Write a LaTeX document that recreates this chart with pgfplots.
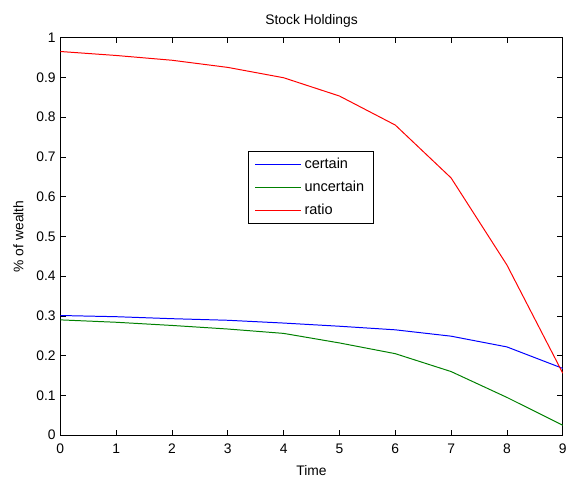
\documentclass[border=0pt]{standalone}
\usepackage{pgfplots}
\pgfplotsset{compat=1.18}
\usepackage{fontspec}
\setmainfont{Liberation Sans}
\begin{document}
\begin{tikzpicture}
\begin{axis}[
  at={(0,0)}, anchor=south west,
  scale only axis,
  width=381pt, height=301.5pt,
  xmin=0, xmax=9, ymin=0, ymax=1,
  xtick={0,1,...,9},
  ytick={0,0.1,...,1},
  yticklabels={0,0.1,0.2,0.3,0.4,0.5,0.6,0.7,0.8,0.9,1},
  tick align=inside,
  major tick length=4pt,
  axis line style={line width=0.6pt},
  tick style={line width=0.5pt, black},
  /pgf/number format/assume math mode=true,
  tick label style={font=\fontsize{10.5}{12}\selectfont},
  xticklabel style={yshift=-3pt},
  label style={font=\fontsize{10.5}{12}\selectfont},
  title style={font=\fontsize{10.5}{12}\selectfont, yshift=-2pt},
  title={Stock Holdings},
  xlabel={Time},
  ylabel={\% of wealth},
  xlabel style={yshift=-2.5pt},
  ylabel style={yshift=3pt},
  legend style={at={(rel axis cs:0.373,0.714)}, anchor=north west,
    font=\fontsize{11}{12}\selectfont, draw=black, line width=0.6pt,
    row sep=4pt, inner xsep=5pt, inner ysep=3pt},
  legend cell align=left,
  legend image code/.code={\draw[#1, line width=0.75pt] (0pt,0pt) -- (35pt,0pt);},
  every axis plot/.append style={line width=0.75pt},
]
\addplot[color={rgb,1:red,0;green,0;blue,1}] coordinates {
 (0,0.301) (1,0.298) (2,0.293) (3,0.289) (4,0.282) (5,0.274) (6,0.265) (7,0.249) (8,0.222) (9,0.168)};
\addlegendentry{certain}
\addplot[color={rgb,1:red,0;green,0.5;blue,0}] coordinates {
 (0,0.290) (1,0.284) (2,0.276) (3,0.267) (4,0.256) (5,0.232) (6,0.205) (7,0.160) (8,0.095) (9,0.025)};
\addlegendentry{uncertain}
\addplot[color={rgb,1:red,1;green,0;blue,0}] coordinates {
 (0,0.965) (1,0.955) (2,0.943) (3,0.925) (4,0.899) (5,0.853) (6,0.780) (7,0.647) (8,0.428) (9,0.156)};
\addlegendentry{ratio}
\end{axis}
\path[use as bounding box] (-45.75pt,-29.25pt) rectangle (382.5pt,330pt);
\end{tikzpicture}
\end{document}
